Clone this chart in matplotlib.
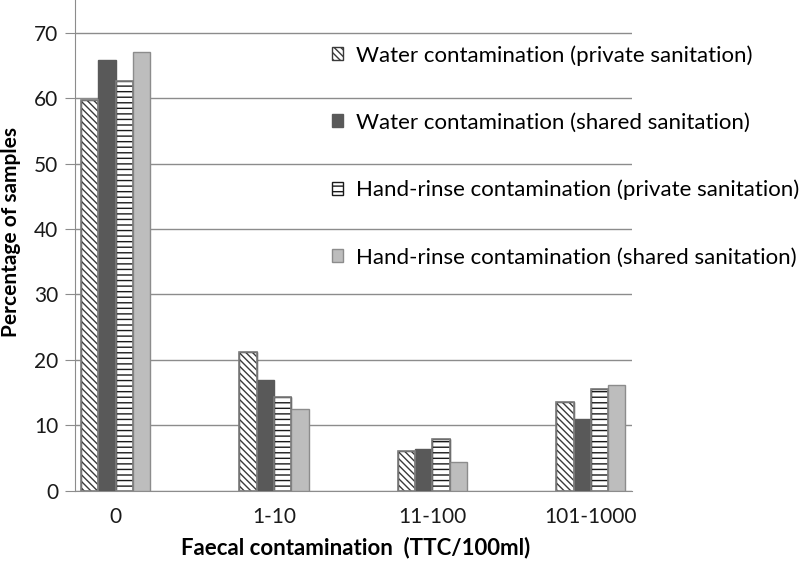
import numpy as np
import matplotlib
matplotlib.use('Agg')
import matplotlib.pyplot as plt

categories = ['0', '1-10', '11-100', '101-1000']
water_private = [59.7, 21.2, 6.1, 13.6]
water_shared = [65.9, 16.9, 6.4, 11.0]
hand_private = [62.6, 14.3, 7.9, 15.6]
hand_shared = [67.0, 12.5, 4.4, 16.1]
labels = ['Water contamination (private sanitation)',
          'Water contamination (shared sanitation)',
          'Hand-rinse contamination (private sanitation)',
          'Hand-rinse contamination (shared sanitation)']

plt.rcParams['font.family'] = ['Lato', 'DejaVu Sans']
plt.rcParams['hatch.linewidth'] = 1.0

fig = plt.figure(figsize=(8, 5.65), dpi=100)
ax = fig.add_axes([75 / 800, 1 - 490.7 / 565, (632 - 75) / 800, 490.7 / 565])

x = np.arange(len(categories))
w = 0.109
styles = [
    dict(color='white', edgecolor='#3a3a3a', hatch='\\\\\\\\\\'),
    dict(color='#595959', edgecolor='#595959'),
    dict(color='white', edgecolor='#1a1a1a', hatch='---'),
    dict(color='#bdbdbd', edgecolor='#8c8c8c'),
]
series = [water_private, water_shared, hand_private, hand_shared]
handles = []
for i, (vals, st) in enumerate(zip(series, styles)):
    b = ax.bar(x + (i - 1.5) * w, vals, w, linewidth=1.0, zorder=3, label=labels[i], **st)
    handles.append(b)
    if 'hatch' in st:
        # grey outline over the hatched bars
        ax.bar(x + (i - 1.5) * w, vals, w, fill=False, edgecolor='#7f7f7f', linewidth=1.2, zorder=4)

ax.set_xlim(-0.256, 3.26)
ax.set_ylim(0, 75)
ax.set_yticks(range(0, 71, 10))
ax.set_xticks(x)
ax.set_xticklabels(categories)
ax.yaxis.grid(True, color='#8c8c8c', linewidth=1.0, zorder=0)
ax.set_axisbelow(True)
for s in ['top', 'right']:
    ax.spines[s].set_visible(False)
for s in ['left', 'bottom']:
    ax.spines[s].set_color('#8c8c8c')
ax.tick_params(axis='y', length=7, color='#8c8c8c', labelsize=15, pad=5, labelcolor='#1a1a1a')
ax.tick_params(axis='x', length=0, labelsize=15, pad=12, labelcolor='#1a1a1a')

ax.set_ylabel('Percentage of samples', fontsize=15, fontweight='bold', va='center')
ax.yaxis.set_label_coords((11 - 75) / 557, (490.7 - 232) / 490.7)
ax.set_xlabel('Faecal contamination  (TTC/100ml)', fontsize=16, fontweight='bold', va='center')
ax.xaxis.set_label_coords((356 - 75) / 557, (490.7 - 548) / 490.7)

ax.legend(handles=handles, loc='upper left', bbox_to_anchor=(332 / 800, 1 - 45 / 565),
          bbox_transform=fig.transFigure, frameon=False, fontsize=16,
          handlelength=0.5, handleheight=0.5, handletextpad=0.6,
          labelspacing=2.12, borderpad=0, borderaxespad=0)

fig.savefig('out.png', dpi=100)
